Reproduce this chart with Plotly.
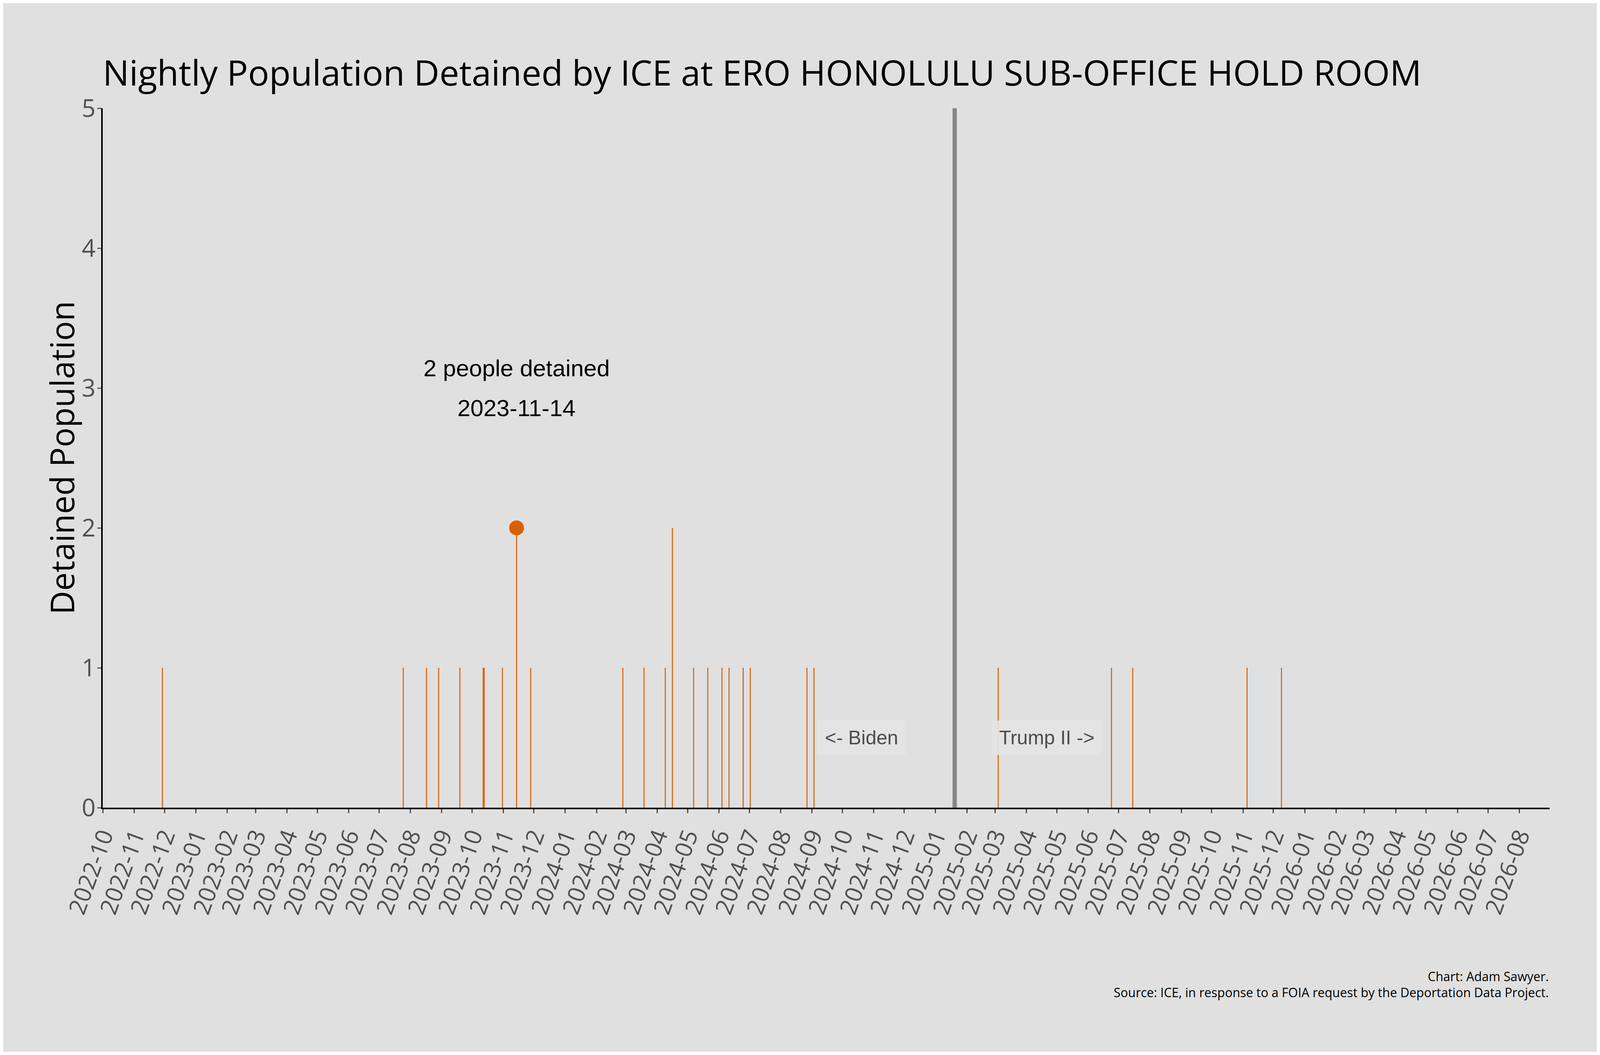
import plotly.graph_objects as go

# nightly detained population, only nights with someone in the hold room
dates = ['2022-11-29', '2023-07-25', '2023-08-17', '2023-08-29', '2023-09-19',
         '2023-10-12', '2023-10-13', '2023-10-31', '2023-11-14', '2023-11-28',
         '2024-02-27', '2024-03-19', '2024-04-09', '2024-04-16', '2024-05-07',
         '2024-05-21', '2024-06-04', '2024-06-11', '2024-06-25', '2024-07-02',
         '2024-08-27', '2024-09-03', '2025-03-04', '2025-06-24', '2025-07-15',
         '2025-11-05', '2025-12-09']
population = [1, 1, 1, 1, 1,
              1, 1, 1, 2, 1,
              1, 1, 1, 2, 1,
              1, 1, 1, 1, 1,
              1, 1, 1, 1, 1,
              1, 1]

peak_date = '2023-11-14'
peak_value = 2
inauguration = '2025-01-20'
biden_x = '2024-10-20'
trump_x = '2025-04-21'

ORANGE = '#d95f02'
BG = '#e0e0e0'
SEGOE = 'Open Sans'
ARIAL = 'Liberation Sans, Arial'

# stems from zero up to each value
stem_x, stem_y = [], []
for d, v in zip(dates, population):
    stem_x += [d, d, None]
    stem_y += [0, v, None]

fig = go.Figure()
fig.add_trace(go.Scatter(x=stem_x, y=stem_y, mode='lines',
                         line=dict(color=ORANGE, width=2.6),
                         hoverinfo='skip', showlegend=False))
fig.add_trace(go.Scatter(x=[peak_date], y=[peak_value], mode='markers',
                         marker=dict(color=ORANGE, size=38),
                         showlegend=False))

# inauguration day divider
fig.add_shape(type='line', x0=inauguration, x1=inauguration, y0=0, y1=5,
              xref='x', yref='y', line=dict(color='#888888', width=11))

fig.add_annotation(x=peak_date, y=3, yshift=51, text='2 people detained',
                   showarrow=False, font=dict(family=ARIAL, size=60, color='black'))
fig.add_annotation(x=peak_date, y=3, yshift=-51, text=peak_date,
                   showarrow=False, font=dict(family=ARIAL, size=60, color='black'))

fig.add_annotation(x=biden_x, y=0.5, text='<- Biden', showarrow=False,
                   font=dict(family=ARIAL, size=50, color='#4d4d4d'),
                   width=203, height=64,
                   bgcolor='rgba(228,228,228,0.9)', borderpad=11,
                   bordercolor='rgba(231,231,231,0.9)', borderwidth=1)
fig.add_annotation(x=trump_x, y=0.5, text='Trump II ->', showarrow=False,
                   font=dict(family=ARIAL, size=50, color='#4d4d4d'),
                   width=258, height=64,
                   bgcolor='rgba(228,228,228,0.9)', borderpad=11,
                   bordercolor='rgba(231,231,231,0.9)', borderwidth=1)

# y axis title placed by hand so it sits close to the tick labels
fig.add_annotation(xref='paper', yref='paper', x=-0.0286, y=0.5,
                   xanchor='center', yanchor='middle', textangle=-90,
                   text='Detained Population', showarrow=False,
                   font=dict(family=SEGOE, size=84, color='black'))

fig.add_annotation(xref='paper', yref='paper', x=1, y=-0.2408, xanchor='right',
                   yanchor='middle', text='Chart: Adam Sawyer.', showarrow=False,
                   font=dict(family=SEGOE, size=32, color='black'))
fig.add_annotation(xref='paper', yref='paper', x=1, y=-0.2642, xanchor='right',
                   yanchor='middle',
                   text='Source: ICE, in response to a FOIA request by the Deportation Data Project.',
                   showarrow=False, font=dict(family=SEGOE, size=32, color='black'))

fig.update_xaxes(range=['2022-10-01', '2026-08-31'], dtick='M1', tick0='2022-10-01',
                 tickformat='%Y-%m', tickangle=-70, ticks='outside', ticklen=10,
                 tickwidth=3, tickcolor='#444444', showgrid=False, zeroline=False,
                 showline=True, linecolor='black', linewidth=4,
                 tickfont=dict(family=SEGOE, size=60, color='#505050'))
fig.update_yaxes(range=[0, 5], dtick=1, ticks='outside', ticklen=10, tickwidth=3,
                 tickcolor='#555555', showgrid=False, zeroline=False,
                 showline=True, linecolor='black', linewidth=3.6,
                 ticklabelstandoff=-8,
                 tickfont=dict(family=SEGOE, size=62, color='#505050'))

fig.update_layout(
    autosize=True,
    paper_bgcolor=BG, plot_bgcolor=BG,
    margin=dict(l=255, r=121, t=269, b=625),
    title=dict(text='Nightly Population Detained by ICE at ERO HONOLULU SUB-OFFICE HOLD ROOM',
               x=0, xref='paper', xanchor='left', y=0.933, yref='container',
               yanchor='middle', font=dict(family=SEGOE, size=90, color='black')),
)

fig.write_html("out.html")
